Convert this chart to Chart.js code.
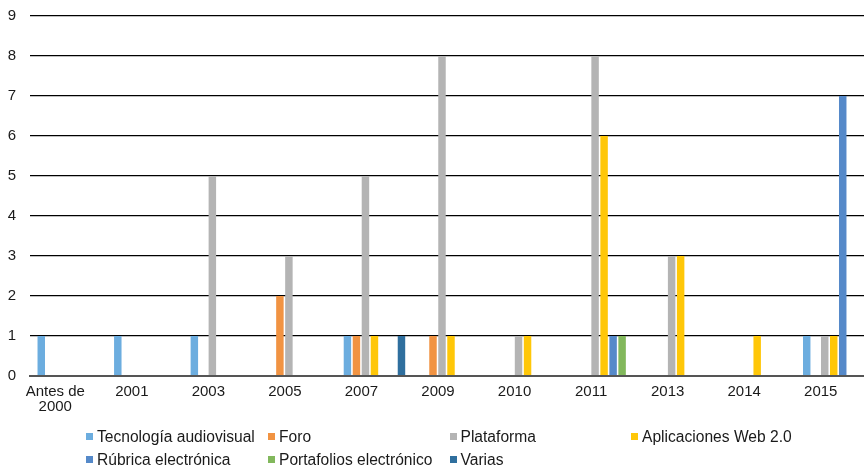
<!DOCTYPE html>
<html lang="es">
<head>
<meta charset="utf-8">
<title>Herramientas por año</title>
<script src="https://cdn.jsdelivr.net/npm/chart.js@4/dist/chart.umd.min.js"></script>
<style>
  html, body { margin: 0; padding: 0; background: #fff; overflow: hidden; }
  #wrap { position: relative; width: 872px; height: 466px; }
  #chart { position: absolute; left: 0; top: 0; }
  .legend-item {
    position: absolute; height: 20px; white-space: nowrap;
    font-family: "Liberation Sans", Arial, Helvetica, sans-serif;
    font-size: 15.6px; color: #1a1a1a; line-height: 20px;
  }
  .legend-item span.sw {
    position: absolute; left: 0; top: 6px; width: 7px; height: 7px;
  }
  .legend-item span.tx { position: absolute; left: 11px; top: 0; }
</style>
</head>
<body>
<div id="wrap">
  <canvas id="chart" width="872" height="466"></canvas>
  <div id="legend"></div>
</div>
<script>
// Categories (years) on the horizontal axis
const categories = [['Antes de', '2000'], '2001', '2003', '2005', '2007', '2009', '2010', '2011', '2013', '2014', '2015'];

// Number of works per tool type and year
const tecnologia   = [1, 1, 1, 0, 1, 0, 0, 0, 0, 0, 1];
const foro         = [0, 0, 0, 2, 1, 1, 0, 0, 0, 0, 0];
const plataforma   = [0, 0, 5, 3, 5, 8, 1, 8, 3, 0, 1];
const aplicaciones = [0, 0, 0, 0, 1, 1, 1, 6, 3, 1, 1];
const rubrica      = [0, 0, 0, 0, 0, 0, 0, 1, 0, 0, 7];
const portafolios  = [0, 0, 0, 0, 0, 0, 0, 1, 0, 0, 0];
const varias       = [0, 0, 0, 0, 1, 0, 0, 0, 0, 0, 0];

// Y axis tick values
const yTicks = [0, 1, 2, 3, 4, 5, 6, 7, 8, 9];

const seriesNames = ['Tecnología audiovisual', 'Foro', 'Plataforma', 'Aplicaciones Web 2.0',
                     'Rúbrica electrónica', 'Portafolios electrónico', 'Varias'];
const seriesData = [tecnologia, foro, plataforma, aplicaciones, rubrica, portafolios, varias];
const seriesColors = ['#6CADDF', '#F19342', '#B4B4B4', '#FFC708', '#5589C9', '#82B85C', '#2F6F9E'];

const FONT = '"Liberation Sans", Arial, Helvetica, sans-serif';

const datasets = seriesNames.map((name, i) => ({
  label: name,
  data: seriesData[i],
  backgroundColor: seriesColors[i],
  borderWidth: 0,
  categoryPercentage: 0.8235,
  barPercentage: 0.83
}));

const chart = new Chart(document.getElementById('chart'), {
  type: 'bar',
  data: { labels: categories, datasets },
  options: {
    responsive: false,
    animation: false,
    devicePixelRatio: 1,
    layout: { padding: { top: 16, right: 0, bottom: 0, left: 0 } },
    plugins: {
      legend: { display: false },
      tooltip: { enabled: false }
    },
    scales: {
      x: {
        offset: true,
        grid: { display: false, drawTicks: false },
        border: { display: true, color: '#555555', width: 2, z: 1 },
        ticks: {
          autoSkip: false,
          maxRotation: 0,
          padding: 8,
          labelOffset: -13,
          color: '#1a1a1a',
          font: { family: FONT, size: 15, lineHeight: 1.0 }
        },
        afterFit: (scale) => { scale.height = 90; }
      },
      y: {
        min: 0,
        max: 9,
        afterBuildTicks: (scale) => { scale.ticks = yTicks.map(v => ({ value: v })); },
        grid: {
          color: '#000000',
          lineWidth: 1.3,
          drawTicks: true,
          tickLength: 14,
          tickColor: 'rgba(0,0,0,0)'
        },
        border: { display: false },
        ticks: {
          padding: 0,
          color: '#1a1a1a',
          font: { family: FONT, size: 15 }
        },
        afterFit: (scale) => { scale.width = 30; }
      }
    }
  }
});

// Legend laid out as a 4-column grid under the chart
const legendCols = [86, 268, 449.5, 631];
const legendRows = [427, 450];
const legendEl = document.getElementById('legend');
chart.data.datasets.forEach((ds, i) => {
  const item = document.createElement('div');
  item.className = 'legend-item';
  item.style.left = legendCols[i % 4] + 'px';
  item.style.top = legendRows[Math.floor(i / 4)] + 'px';
  const sw = document.createElement('span');
  sw.className = 'sw';
  sw.style.background = ds.backgroundColor;
  const tx = document.createElement('span');
  tx.className = 'tx';
  tx.textContent = ds.label;
  item.appendChild(sw);
  item.appendChild(tx);
  legendEl.appendChild(item);
});
</script>
</body>
</html>
